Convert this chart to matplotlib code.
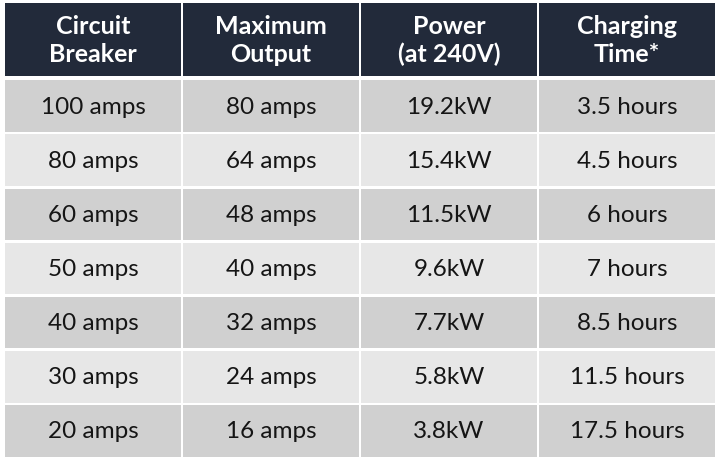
import matplotlib
matplotlib.use("Agg")
import matplotlib.pyplot as plt
from matplotlib.patches import Rectangle

headers = ["Circuit\nBreaker", "Maximum\nOutput", "Power\n(at 240V)", "Charging\nTime*"]
breaker = ["100 amps", "80 amps", "60 amps", "50 amps", "40 amps", "30 amps", "20 amps"]
output = ["80 amps", "64 amps", "48 amps", "40 amps", "32 amps", "24 amps", "16 amps"]
power = ["19.2kW", "15.4kW", "11.5kW", "9.6kW", "7.7kW", "5.8kW", "3.8kW"]
charging = ["3.5 hours", "4.5 hours", "6 hours", "7 hours", "8.5 hours", "11.5 hours", "17.5 hours"]

columns = [breaker, output, power, charging]

W, H = 720, 462
fig = plt.figure(figsize=(W / 100, H / 100), dpi=100)
ax = fig.add_axes([0, 0, 1, 1])
ax.set_xlim(0, W)
ax.set_ylim(H, 0)
ax.axis("off")
fig.patch.set_facecolor("white")

FONT = ["Lato", "DejaVu Sans"]
left, right = 4, 716
col_w = (right - left) / 4
gap = 2.5
head_top, head_bot = 3, 76
row_top = 79
row_h = (458 - row_top) / 7

header_color = "#222a3a"
dark = "#d0d0d0"
light = "#e7e7e7"

for j, h in enumerate(headers):
    x0 = left + j * col_w
    ax.add_patch(Rectangle((x0 + gap / 2, head_top), col_w - gap, head_bot - head_top,
                           facecolor=header_color, edgecolor="none"))
    ax.text(x0 + col_w / 2, (head_top + head_bot) / 2 + 1, h, ha="center", va="center",
            color="white", fontsize=18, fontweight="bold", family=FONT, linespacing=1.25)

for i in range(7):
    y0 = row_top + i * row_h
    color = dark if i % 2 == 0 else light
    for j, col in enumerate(columns):
        x0 = left + j * col_w
        ax.add_patch(Rectangle((x0 + gap / 2, y0 + gap / 2), col_w - gap, row_h - gap,
                               facecolor=color, edgecolor="none"))
        ax.text(x0 + col_w / 2, y0 + row_h / 2 + 1, col[i], ha="center", va="center",
                color="#151515", fontsize=17.5, family=FONT)

fig.savefig("out.png", dpi=100, facecolor="white")
